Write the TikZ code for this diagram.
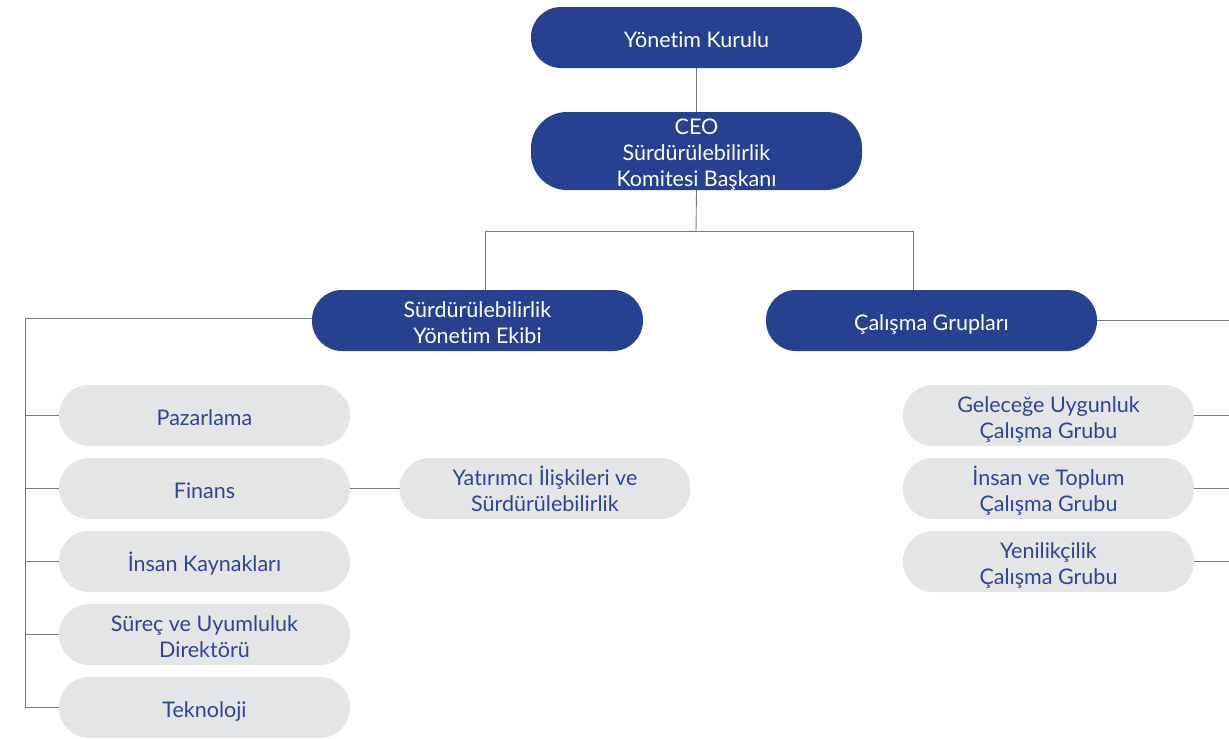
\documentclass[tikz,border=0pt]{standalone}
\usepackage{fontspec}
\setmainfont{Lato}[Ligatures={NoCommon}]
\definecolor{navy}{HTML}{26418F}
\definecolor{pill}{HTML}{E4E5E7}
\definecolor{ptext}{HTML}{2C4693}
\definecolor{lin}{HTML}{7A7A7A}
\newcommand\lo[1]{\raisebox{-4.5pt}[\height][\depth]{\begin{tabular}{@{}c@{}}#1\end{tabular}}}
\begin{document}
\begin{tikzpicture}[x=1pt,y=-1pt,
  bluebox/.style={fill=navy,text=white,rounded corners=30pt,minimum width=331pt,minimum height=61pt,inner sep=0pt,align=center,font=\fontsize{21.5}{26}\selectfont},
  graybox/.style={fill=pill,text=ptext,rounded corners=30pt,minimum width=291pt,minimum height=61pt,inner sep=0pt,align=center,font=\fontsize{21.5}{26}\selectfont},
  conn/.style={draw=lin,line width=0.9pt,dash pattern=on 0.6pt off 0.4pt}]
\useasboundingbox (0,0) rectangle (1229,739);
\node[bluebox] (yk) at (696.5,37.5) {\lo{Yönetim Kurulu}};
\node[bluebox,minimum height=76pt,rounded corners=36pt] (ceo) at (696.5,151) {\lo{CEO\\Sürdürülebilirlik\\Komitesi Başkanı}};
\node[bluebox] (sye) at (477.5,320.5) {\lo{Sürdürülebilirlik\\Yönetim Ekibi}};
\node[bluebox] (cg) at (931.5,320.5) {\lo{Çalışma Grupları}};
\node[graybox] (paz) at (204.5,415.5) {\lo{Pazarlama}};
\node[graybox] (fin) at (204.5,488.5) {\lo{Finans}};
\node[graybox] (ik) at (204.5,561.5) {\lo{İnsan Kaynakları}};
\node[graybox] (sur) at (204.5,634.5) {\lo{Süreç ve Uyumluluk\\Direktörü}};
\node[graybox] (tek) at (204.5,707.5) {\lo{Teknoloji}};
\node[graybox] (yat) at (545,488.5) {\lo{Yatırımcı İlişkileri ve\\Sürdürülebilirlik}};
\node[graybox] (gel) at (1048.5,415.5) {\lo{Geleceğe Uygunluk\\Çalışma Grubu}};
\node[graybox] (ist) at (1048.5,488.5) {\lo{İnsan ve Toplum\\Çalışma Grubu}};
\node[graybox] (yen) at (1048.5,561.5) {\lo{Yenilikçilik\\Çalışma Grubu}};
\coordinate (mid) at (696,231);
\coordinate (lb) at (485,231);
\coordinate (rb) at (913,231);
\coordinate (lt) at (25,318);
\coordinate (lbot) at (25,707.5);
\coordinate (re0) at (1229,320.5);
\coordinate (re1) at (1229,415.5);
\coordinate (re2) at (1229,488.5);
\coordinate (re3) at (1229,561.5);
\draw[conn] (yk.south) -- (ceo.north);
\draw[conn] (ceo.south) -- (mid);
\draw[conn] (lb) -- (rb);
\draw[conn] (lb) -- (lb |- sye.north);
\draw[conn] (rb) -- (rb |- cg.north);
\draw[conn] (sye.west |- lt) -- (lt) -- (lbot);
\foreach \n in {paz,fin,ik,sur,tek} \draw[conn] (\n.west) -- (lt |- \n.west);
\draw[conn] (fin.east) -- (yat.west);
\draw[conn] (cg.east) -- (re0);
\draw[conn] (gel.east) -- (re1);
\draw[conn] (ist.east) -- (re2);
\draw[conn] (yen.east) -- (re3);
\end{tikzpicture}
\end{document}
